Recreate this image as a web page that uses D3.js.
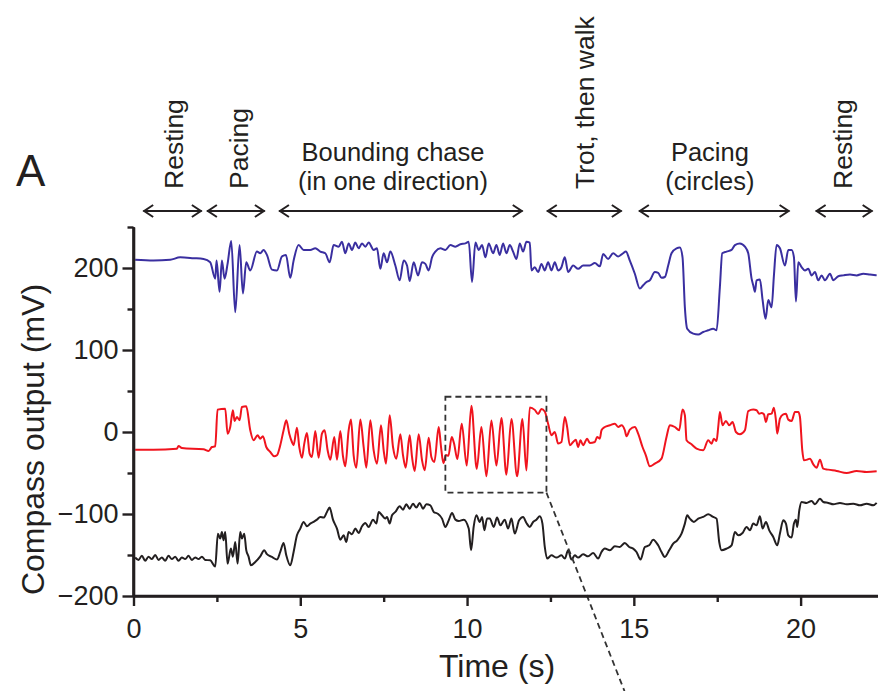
<!DOCTYPE html>
<html>
<head>
<meta charset="utf-8">
<script src="https://cdn.jsdelivr.net/npm/d3@7"></script>
<style>
  body { margin: 0; background: #fff; }
  svg { display: block; }
  text { font-family: "Liberation Sans", Arial, Helvetica, sans-serif; fill: #231f20; }
</style>
</head>
<body>
<svg id="chart" width="878" height="691"></svg>
<script>
// Compass sensor output over time: [time (s), output (mV)]
const blueTrace = [
  [0.05,210],[0.6,209],[1.1,210],[1.4,213],[1.8,212],[2.1,211],[2.3,207],[2.45,187],[2.49,209],[2.58,171],
  [2.65,209],[2.73,187],[2.82,205],[2.93,233],[3.05,146],[3.18,228],[3.28,169],[3.38,207],[3.5,197],[3.7,220],
  [3.8,218],[3.9,222],[4.0,216],[4.15,198],[4.3,197],[4.45,214],[4.57,216],[4.7,188],[4.8,209],[4.95,228],
  [5.1,222],[5.3,222],[5.45,224],[5.6,220],[5.75,218],[5.88,207],[6.0,228],[6.15,226],[6.25,232],[6.35,218],
  [6.45,230],[6.55,222],[6.65,231],[6.75,224],[6.85,230],[6.95,226],[7.05,231],[7.2,222],[7.3,224],[7.4,199],
  [7.5,218],[7.6,207],[7.7,220],[7.85,203],[7.98,185],[8.1,209],[8.2,203],[8.28,184],[8.4,207],[8.53,191],
  [8.65,207],[8.75,205],[8.85,197],[8.95,213],[9.05,220],[9.2,224],[9.35,222],[9.5,228],[9.65,226],[9.8,229],
  [9.95,230],[10.05,232],[10.15,183],[10.25,231],[10.35,222],[10.45,228],[10.55,213],[10.65,230],[10.78,218],[10.88,228],
  [10.98,216],[11.08,230],[11.18,218],[11.28,228],[11.38,220],[11.48,211],[11.58,230],[11.68,220],[11.78,232],[11.88,231],
  [11.93,197],[12.03,201],[12.13,195],[12.23,205],[12.33,197],[12.43,207],[12.53,197],[12.63,207],[12.73,197],[12.83,201],
  [12.93,213],[13.03,195],[13.18,203],[13.33,199],[13.48,203],[13.68,203],[13.83,206],[13.98,202],[14.08,217],[14.23,211],
  [14.38,218],[14.53,214],[14.68,218],[14.76,220],[14.88,209],[15.03,193],[15.18,175],[15.28,179],[15.38,183],[15.48,185],
  [15.63,195],[15.73,194],[15.83,188],[15.93,189],[16.03,203],[16.13,218],[16.28,224],[16.38,225],[16.46,213],[16.53,152],
  [16.6,126],[16.78,120],[16.93,119],[17.08,122],[17.23,124],[17.38,126],[17.48,124],[17.58,177],[17.65,218],[17.78,220],
  [17.93,222],[18.03,228],[18.18,230],[18.33,226],[18.43,218],[18.53,187],[18.58,179],[18.63,171],[18.68,185],[18.78,186],
  [18.86,161],[18.95,138],[19.03,161],[19.13,152],[19.2,191],[19.28,228],[19.38,224],[19.53,203],[19.63,222],[19.73,222],
  [19.8,213],[19.86,159],[19.93,207],[20.03,201],[20.13,197],[20.23,199],[20.33,191],[20.43,195],[20.53,185],[20.63,191],
  [20.73,185],[20.88,193],[20.98,185],[21.13,190],[21.28,191],[21.48,192],[21.68,191],[21.88,193],[22.08,192],[22.28,191]
];

const redTrace = [
  [0.05,-21.5],[0.6,-21.5],[1.3,-20.3],[1.35,-17],[1.45,-19.5],[2.1,-21.1],[2.25,-23.1],[2.35,-18.3],[2.45,-17.4],[2.52,27.3],
  [2.75,28.5],[2.82,-2],[2.9,6.1],[2.98,26.5],[3.03,13.5],[3.1,18.3],[3.18,14.3],[3.25,30.5],[3.38,31.3],[3.5,2.1],
  [3.6,-10.1],[3.72,-4],[3.8,-8.1],[3.88,-5.2],[3.98,-18.3],[4.1,-24.4],[4.22,-29.6],[4.3,-28.4],[4.4,-16.2],[4.5,2.1],
  [4.58,14.3],[4.67,-2],[4.75,-12.2],[4.8,-16.2],[4.9,5.3],[4.97,-18.3],[5.05,-31.3],[5.12,-14.2],[5.2,-1.2],[5.28,-26.4],
  [5.35,-30.4],[5.45,1.2],[5.55,-31.3],[5.65,-2],[5.73,2.1],[5.82,-22.3],[5.9,-33.7],[6.02,-6],[6.1,-33.7],[6.2,1.2],
  [6.28,-29.6],[6.35,-41.8],[6.45,2.1],[6.52,15.1],[6.6,-28.4],[6.68,-43.5],[6.8,15.1],[6.9,-18.3],[6.98,-43.5],[7.1,14.3],
  [7.2,-22.3],[7.3,-38.6],[7.42,8.2],[7.5,-22.3],[7.57,-38.6],[7.68,20.4],[7.78,-18.3],[7.88,-32.5],[8.0,-2.8],[8.08,-28.4],
  [8.16,-43.5],[8.28,-4],[8.35,-30.4],[8.43,-47.5],[8.55,-2.8],[8.65,-34.5],[8.73,-46.7],[8.85,-6.9],[8.93,-30.4],[9.02,-36.5],
  [9.15,6.1],[9.22,-18.3],[9.29,-38],[9.37,-28],[9.44,-29],[9.54,-6],[9.61,-14],[9.71,-33],[9.84,10],[9.99,-41],
  [10.13,32],[10.29,-45],[10.43,6],[10.58,-54],[10.73,14],[10.88,-41],[11.03,17],[11.18,-52],[11.33,16],[11.5,-54],
  [11.66,16],[11.78,-47],[11.88,30],[12.03,27],[12.13,22],[12.23,28],[12.33,25],[12.43,10],[12.53,-4],[12.63,0],
  [12.73,-14],[12.83,-12.2],[12.93,18.3],[13.0,6.1],[13.08,-16.2],[13.18,-12.2],[13.26,-9.3],[13.33,-18.3],[13.4,-10.1],[13.48,-16.2],
  [13.6,-8.1],[13.68,-13.4],[13.83,-12.2],[13.9,-6],[13.98,-8.1],[14.03,2.1],[14.13,6.1],[14.28,8.2],[14.43,10.2],[14.53,6.1],
  [14.63,8.2],[14.73,2.1],[14.78,-5.2],[14.88,2.9],[15.03,6.1],[15.13,-2],[15.26,-18.3],[15.36,-28.4],[15.48,-41.8],[15.63,-38.6],
  [15.83,-32.5],[15.98,-6],[16.08,8.2],[16.23,6.1],[16.36,2.1],[16.46,27.3],[16.53,20.4],[16.58,-10.1],[16.73,-15],[16.88,-20.3],
  [17.08,-22.3],[17.23,-10.1],[17.33,-14.2],[17.4,-8.1],[17.48,-10.9],[17.53,6.1],[17.58,24.4],[17.66,8.2],[17.76,13.5],[17.86,8.2],
  [17.96,12.2],[18.06,0],[18.18,-2.8],[18.33,2.1],[18.43,25.6],[18.58,27.3],[18.68,26.5],[18.76,22.4],[18.83,23.2],[18.9,21.6],
  [18.96,12.2],[19.03,21.6],[19.13,22.4],[19.2,29.7],[19.26,14.3],[19.3,-2],[19.38,16.3],[19.48,21.6],[19.56,22.4],[19.63,15.1],
  [19.73,13.5],[19.83,24.4],[19.93,24.4],[19.98,18.3],[20.05,-22.3],[20.1,-34.5],[20.2,-33.7],[20.28,-32.5],[20.38,-39.4],[20.48,-43.5],
  [20.58,-33.7],[20.68,-44.7],[20.83,-45.9],[21.08,-47.5],[21.38,-50],[21.68,-47.5],[21.98,-48.7],[22.28,-47.9]
];

const blackTrace = [
  [0.05,-153],[0.15,-156],[0.25,-151],[0.35,-157],[0.45,-152],[0.55,-155],[0.65,-150],[0.75,-156],[0.85,-153],[0.95,-157],
  [1.05,-151],[1.15,-155],[1.25,-152],[1.35,-157],[1.45,-153],[1.55,-155],[1.65,-151],[1.75,-156],[1.85,-153],[1.95,-155],
  [2.05,-152],[2.15,-156],[2.3,-156.5],[2.45,-164],[2.53,-124],[2.6,-130],[2.65,-122],[2.7,-132],[2.75,-122],[2.82,-160.5],
  [2.92,-142],[2.98,-152],[3.05,-134],[3.12,-160.5],[3.2,-122],[3.25,-130],[3.32,-124],[3.38,-144],[3.45,-152],[3.52,-162.6],
  [3.65,-158.5],[3.8,-151.6],[3.92,-144.3],[4.0,-149],[4.15,-152.4],[4.3,-155.6],[4.4,-146.3],[4.5,-135.3],[4.58,-150.4],[4.7,-162.6],
  [4.8,-146.3],[4.9,-126],[5.0,-117.8],[5.1,-109.7],[5.2,-115],[5.3,-111.7],[5.4,-109.7],[5.5,-106.9],[5.6,-103.6],[5.7,-104.4],
  [5.8,-97.5],[5.88,-92.2],[5.98,-106.9],[6.1,-117.8],[6.2,-131.3],[6.3,-126],[6.38,-134.1],[6.45,-121.9],[6.55,-124.8],[6.65,-117.8],
  [6.75,-123.1],[6.85,-115],[6.95,-110.9],[7.05,-115.8],[7.18,-106.9],[7.28,-111.7],[7.35,-97.5],[7.45,-101.6],[7.55,-105.6],[7.6,-103.6],
  [7.68,-111.7],[7.75,-101.6],[7.85,-97.5],[7.98,-90.6],[8.08,-94.7],[8.18,-88.2],[8.28,-93.5],[8.38,-87.4],[8.48,-92.2],[8.58,-86.5],
  [8.68,-93.5],[8.78,-88.2],[8.9,-89.4],[9.0,-97.5],[9.12,-99.6],[9.25,-105.6],[9.35,-115.8],[9.45,-107.7],[9.55,-98.7],[9.65,-106.9],
  [9.75,-108.5],[9.9,-106.9],[10.05,-117.8],[10.12,-144.3],[10.2,-115],[10.28,-101.6],[10.38,-109.7],[10.45,-103.6],[10.52,-119.9],[10.6,-105.6],
  [10.68,-105.6],[10.8,-115.8],[10.9,-104.4],[11.0,-113.8],[11.13,-106.9],[11.23,-117.8],[11.33,-105.6],[11.43,-123.9],[11.56,-107.7],[11.68,-103.6],
  [11.78,-110.9],[11.88,-115.8],[11.98,-109.7],[12.08,-106.9],[12.18,-102.8],[12.26,-111.7],[12.33,-140.2],[12.4,-154.4],[12.53,-150.4],[12.68,-153.2],
  [12.83,-150.4],[12.93,-154.4],[13.03,-144.3],[13.13,-155.6],[13.23,-150.4],[13.33,-153.2],[13.48,-149.1],[13.63,-151.6],[13.78,-147.5],[13.93,-154.4],
  [14.03,-146.3],[14.13,-142.2],[14.28,-144.3],[14.43,-139.4],[14.58,-140.2],[14.73,-135.3],[14.86,-140.2],[14.98,-142.2],[15.08,-146.3],[15.2,-155.6],
  [15.33,-140.2],[15.46,-138.2],[15.58,-131.3],[15.73,-138.2],[15.83,-146.3],[15.93,-152.4],[16.06,-144.3],[16.18,-136.1],[16.3,-132.1],[16.43,-123.9],
  [16.53,-111.7],[16.6,-101.6],[16.68,-105.6],[16.8,-109.7],[16.93,-105.6],[17.08,-103.6],[17.23,-100.4],[17.38,-103.6],[17.48,-105.6],[17.56,-134.1],
  [17.63,-144.3],[17.78,-142.2],[17.93,-138.2],[18.03,-121.9],[18.13,-126],[18.26,-123.1],[18.38,-115.8],[18.48,-119.9],[18.58,-111.7],[18.68,-113.8],
  [18.78,-102.8],[18.86,-117.8],[18.96,-109.7],[19.06,-119.9],[19.18,-128],[19.3,-138.2],[19.38,-123.9],[19.48,-107.7],[19.56,-111.7],[19.63,-126],
  [19.73,-128.8],[19.8,-111.7],[19.86,-106.9],[19.9,-115.8],[19.96,-95.5],[20.03,-85.3],[20.18,-86.5],[20.33,-84.1],[20.43,-88.2],[20.58,-81.3],
  [20.68,-85.3],[20.83,-86.5],[20.98,-88.2],[21.18,-86.5],[21.38,-88.2],[21.58,-87.4],[21.78,-89.4],[21.98,-87.4],[22.18,-89.4],[22.28,-86.5]
];

const xTickValues = [0, 5, 10, 15, 20];
const xMinorTicks = [2.5, 7.5, 12.5, 17.5];
const yTickValues = [-200, -100, 0, 100, 200];
const yMinorTicks = [-150, -50, 50, 150, 250];

// Behaviour phases: time span (s) of each double arrow, label lines, label centre time
const phaseNames  = [["Resting"], ["Pacing"], ["Bounding chase", "(in one direction)"], ["Trot, then walk"], ["Pacing", "(circles)"], ["Resting"]];
const phaseStart  = [0.29, 2.20, 4.36, 12.39, 15.15, 20.45];
const phaseEnd    = [2.05, 3.94, 11.67, 14.64, 19.67, 22.16];
const phaseLabelT = [1.17, 3.12, 7.78, 13.52, 17.28, 21.25];
const phaseUpright = [true, true, false, true, false, true];

// Highlighted window (s, mV) and the point its connector heads toward
const windowTime = [9.35, 12.38];
const windowValue = [-74, 43];
const connectorEnd = [14.72, -316];

const svg = d3.select("#chart");
const ink = "#231f20";

const x = d3.scaleLinear().domain([0, 22.32]).range([133.5, 878]);
const y = d3.scaleLinear().domain([-200, 250]).range([596, 227]);

// traces
const line = d3.line().x(d => x(d[0])).y(d => y(d[1])).curve(d3.curveMonotoneX);
const traces = [
  { data: blueTrace, color: "#3a2fa0" },
  { data: redTrace, color: "#f0141e" },
  { data: blackTrace, color: "#231f20" }
];
svg.append("g").selectAll("path").data(traces).join("path")
  .attr("d", d => line(d.data))
  .attr("fill", "none")
  .attr("stroke", d => d.color)
  .attr("stroke-width", 2)
  .attr("stroke-linejoin", "round");

// dashed window and connector
const dash = svg.append("g").attr("fill", "none").attr("stroke", "#333").attr("stroke-width", 1.8).attr("stroke-dasharray", "6,4");
dash.append("rect")
  .attr("x", x(windowTime[0])).attr("y", y(windowValue[1]))
  .attr("width", x(windowTime[1]) - x(windowTime[0]))
  .attr("height", y(windowValue[0]) - y(windowValue[1]));
dash.append("line")
  .attr("x1", x(windowTime[1])).attr("y1", y(windowValue[0]))
  .attr("x2", x(connectorEnd[0])).attr("y2", y(connectorEnd[1]));

// axes
const yAxis = svg.append("g").attr("transform", `translate(${x(0)},0)`)
  .call(d3.axisLeft(y).tickValues(yTickValues).tickSize(11).tickPadding(4).tickSizeOuter(0));
const yMinor = svg.append("g").attr("transform", `translate(${x(0)},0)`)
  .call(d3.axisLeft(y).tickValues(yMinorTicks).tickSize(6).tickFormat("").tickSizeOuter(0));
const xAxis = svg.append("g").attr("transform", `translate(0,${y(-200)})`)
  .call(d3.axisBottom(x).tickValues(xTickValues).tickSize(10).tickPadding(13).tickSizeOuter(0));
const xMinor = svg.append("g").attr("transform", `translate(0,${y(-200)})`)
  .call(d3.axisBottom(x).tickValues(xMinorTicks).tickSize(6).tickFormat("").tickSizeOuter(0));

[yAxis, yMinor, xAxis, xMinor].forEach(g => {
  g.select(".domain").attr("stroke", ink).attr("stroke-width", 2.6);
  g.selectAll(".tick line").attr("stroke", ink).attr("stroke-width", 2.4);
  g.selectAll(".tick text").attr("font-size", 27).attr("fill", ink)
    .style("font-family", '"Liberation Sans", Arial, Helvetica, sans-serif');
});
// the x axis runs to the right edge of the frame
xAxis.select(".domain").attr("d", `M${x(0)},0H878`);
yAxis.select(".domain").attr("d", `M0,${y(250)}V${y(-200) + 1}`);

// axis titles
svg.append("text")
  .attr("transform", `translate(44,${(y(250) + y(-200)) / 2 + 28}) rotate(-90)`)
  .attr("text-anchor", "middle").attr("font-size", 32)
  .text("Compass output (mV)");
svg.append("text")
  .attr("x", 497).attr("y", 677)
  .attr("text-anchor", "middle").attr("font-size", 32)
  .text("Time (s)");

// panel letter
svg.append("text").attr("x", 16).attr("y", 186).attr("font-size", 44).text("A");

// behaviour phases: double-headed arrows and labels
const arrowY = 211;
const arrows = svg.append("g").attr("fill", "none").attr("stroke", ink).attr("stroke-width", 2);
phaseStart.forEach((t0, i) => {
  const x0 = x(t0), x1 = x(phaseEnd[i]);
  arrows.append("path").attr("d",
    `M${x0},${arrowY}H${x1}` +
    `M${x0 + 10},${arrowY - 6}L${x0 + 1},${arrowY}L${x0 + 10},${arrowY + 6}` +
    `M${x1 - 10},${arrowY - 6}L${x1 - 1},${arrowY}L${x1 - 10},${arrowY + 6}`);
  const cx = x(phaseLabelT[i]);
  if (phaseUpright[i]) {
    svg.append("text")
      .attr("transform", `translate(${cx + 10},189) rotate(-90)`)
      .attr("font-size", 26.5)
      .text(phaseNames[i][0]);
  } else {
    phaseNames[i].forEach((s, k) => {
      svg.append("text")
        .attr("x", cx).attr("y", 161 + k * 29)
        .attr("text-anchor", "middle").attr("font-size", 25.5)
        .text(s);
    });
  }
});
</script>
</body>
</html>
